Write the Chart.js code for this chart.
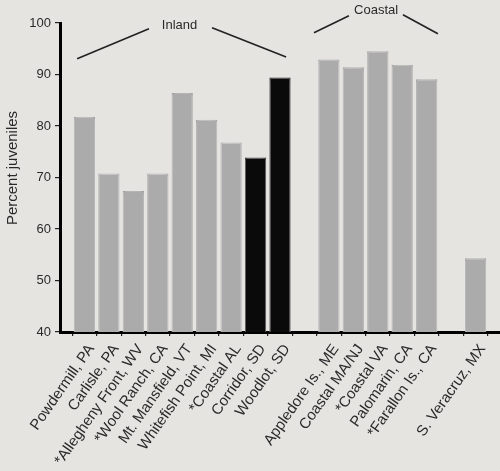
<!DOCTYPE html>
<html>
<head>
<meta charset="utf-8">
<script src="https://cdn.jsdelivr.net/npm/chart.js@4/dist/chart.umd.min.js"></script>
<style>
	html, body { margin: 0; padding: 0; background: #e6e4e1; }
	#wrap { width: 500px; height: 471px; position: relative; }
</style>
</head>
<body>
<div id="wrap"><canvas id="juveniles"></canvas></div>
<script>
// Sites along the x axis; empty strings are the gaps between groups.
var sites = [ '', 'Powdermill, PA', 'Carlisle, PA', '*Allegheny Front, WV', '*Wool Ranch, CA', 'Mt. Mansfield, VT',
	'Whitefish Point, MI', '*Coastal AL', 'Corridor, SD', 'Woodlot, SD', '', 'Appledore Is., ME', 'Coastal MA/NJ',
	'*Coastal VA', 'Palomarin, CA', '*Farallon Is., CA', '', 'S. Veracruz, MX', '' ];

// Percent juveniles per site.
var percentJuveniles = [ null, 81.8, 70.8, 67.4, 70.8, 86.4, 81.2, 76.8, 73.9, 89.4, null,
	92.9, 91.4, 94.5, 91.9, 89.1, null, 54.3, null ];

// Which sites are drawn in black.
var blackSites = [ 'Corridor, SD', 'Woodlot, SD' ];

var yTicks = [ 40, 50, 60, 70, 80, 90, 100 ];

// Group brackets above the bars: label, label position, and two line segments ([index, value] pairs).
var groups = [
	{ text: 'Inland', at: [ 4.89, 99.6 ], lines: [ [ [ 0.70, 93.05 ], [ 3.64, 98.9 ] ], [ [ 6.22, 99.1 ], [ 9.25, 93.4 ] ] ] },
	{ text: 'Coastal', at: [ 12.93, 102.4 ], lines: [ [ [ 10.39, 98.1 ], [ 11.82, 101.4 ] ], [ [ 14.03, 101.6 ], [ 15.46, 97.9 ] ] ] },
];

var barColors = sites.map( function ( s ) {
	return blackSites.indexOf( s ) !== -1 ? '#0a0a0a' : '#ababab';
} );
var barBorders = sites.map( function ( s ) {
	return blackSites.indexOf( s ) !== -1 ? '#000000' : '#8a8a8a';
} );

// Soft white halo around the bars, like the scanned figure.
var haloPlugin = {
	id: 'halo',
	beforeDatasetsDraw: function ( chart ) {
		chart.ctx.save();
		chart.ctx.shadowColor = 'rgba(255,255,255,0.9)';
		chart.ctx.shadowBlur = 4;
	},
	afterDatasetsDraw: function ( chart ) {
		chart.ctx.restore();
	},
};

// Y title and group brackets.
var decorPlugin = {
	id: 'decor',
	afterDraw: function ( chart ) {
		var ctx = chart.ctx;
		var x = chart.scales.x;
		var y = chart.scales.y;

		ctx.save();
		ctx.fillStyle = '#2a2a2a';
		ctx.font = '15px "Liberation Sans", Arial, sans-serif';
		ctx.textAlign = 'center';
		ctx.textBaseline = 'middle';
		ctx.translate( 13, 168 );
		ctx.rotate( -Math.PI / 2 );
		ctx.fillText( 'Percent juveniles', 0, 0 );
		ctx.restore();

		ctx.save();
		ctx.strokeStyle = '#222222';
		ctx.lineWidth = 1.6;
		ctx.fillStyle = '#2a2a2a';
		ctx.font = '13px "Liberation Sans", Arial, sans-serif';
		ctx.textAlign = 'center';
		ctx.textBaseline = 'middle';
		groups.forEach( function ( g ) {
			ctx.fillText( g.text, x.getPixelForValue( g.at[ 0 ] ), y.getPixelForValue( g.at[ 1 ] ) );
			g.lines.forEach( function ( seg ) {
				ctx.beginPath();
				ctx.moveTo( x.getPixelForValue( seg[ 0 ][ 0 ] ), y.getPixelForValue( seg[ 0 ][ 1 ] ) );
				ctx.lineTo( x.getPixelForValue( seg[ 1 ][ 0 ] ), y.getPixelForValue( seg[ 1 ][ 1 ] ) );
				ctx.stroke();
			} );
		} );
		ctx.restore();
	},
};

var config = {
	type: 'bar',
	data: {
		labels: sites,
		datasets: [
			{
				data: percentJuveniles,
				backgroundColor: barColors,
				borderColor: barBorders,
				borderWidth: 1,
				categoryPercentage: 1,
				barPercentage: 0.87,
			},
		],
	},
	plugins: [ haloPlugin, decorPlugin ],
	options: {
		responsive: true,
		maintainAspectRatio: false,
		animation: false,
		layout: {
			padding: { top: 23, right: 0, bottom: 0, left: 0 },
		},
		plugins: {
			legend: { display: false },
			tooltip: { enabled: false },
		},
		scales: {
			x: {
				offset: false,
				afterFit: function ( scale ) {
					scale.height = 139;
					scale.paddingLeft = 0;
					scale.paddingRight = 0;
				},
				grid: {
					display: true,
					drawOnChartArea: false,
					drawTicks: true,
					tickLength: 4,
					color: '#222222',
					lineWidth: 1.2,
				},
				border: { display: true, color: '#000000', width: 3 },
				ticks: {
					autoSkip: false,
					minRotation: 55,
					maxRotation: 55,
					padding: 5,
					labelOffset: 7,
					color: '#2a2a2a',
					font: { family: '"Liberation Sans", Arial, sans-serif', size: 15 },
				},
			},
			y: {
				min: 40,
				max: 100,
				afterFit: function ( scale ) {
					scale.width = 60;
				},
				afterBuildTicks: function ( scale ) {
					scale.ticks = yTicks.map( function ( v ) {
						return { value: v };
					} );
				},
				grid: {
					display: true,
					drawOnChartArea: false,
					drawTicks: true,
					tickLength: 5,
					color: '#222222',
					lineWidth: 1.2,
				},
				border: { display: true, color: '#000000', width: 3 },
				ticks: {
					padding: 4,
					color: '#2a2a2a',
					font: { family: '"Liberation Sans", Arial, sans-serif', size: 13 },
				},
			},
		},
	},
};

new Chart( document.getElementById( 'juveniles' ), config );
</script>
</body>
</html>
